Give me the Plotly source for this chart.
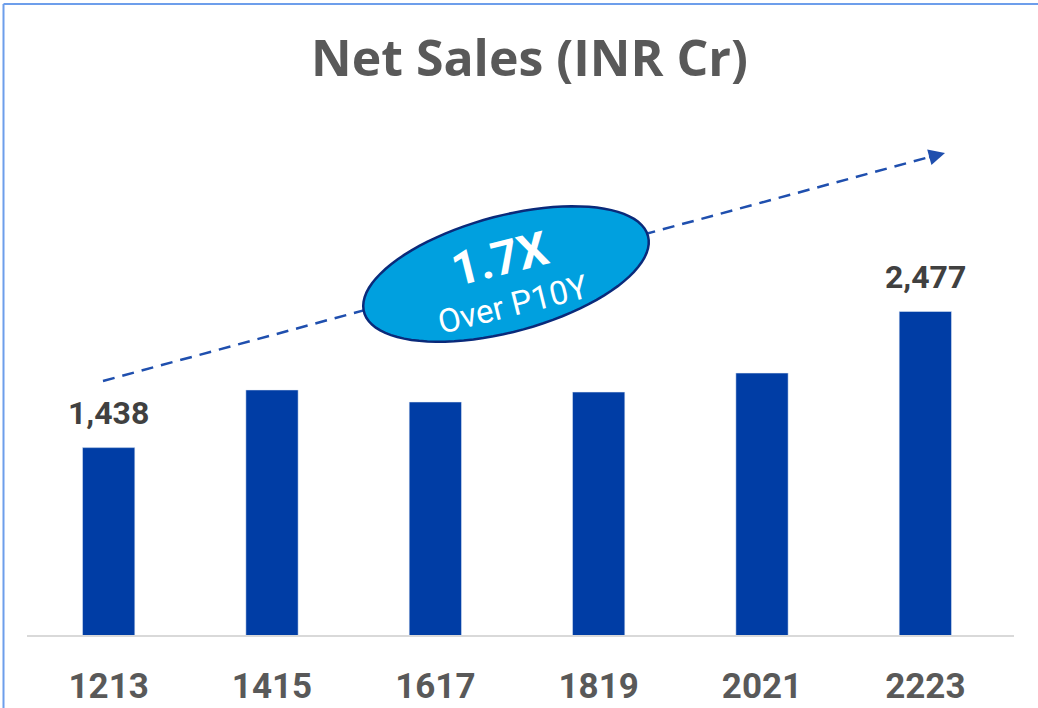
import plotly.graph_objects as go
import numpy as np

# ---- data ----
years = ["1213", "1415", "1617", "1819", "2021", "2223"]
net_sales = [1438, 1878, 1786, 1862, 2007, 2477]
label_text = ["1,438", "", "", "", "", "2,477"]
title_text = "Net Sales (INR Cr)"
badge_main = "1.7X"
badge_sub = "Over P10Y"

W, H = 1038, 708
ML, MR, MT, MB = 27, 31, 100, 72
PW, PH = W - ML - MR, H - MT - MB

def px(x):
    return (x - ML) / PW

def py(y):
    return (H - MB - y) / PH

BAR = "#003DA5"
fig = go.Figure()
fig.add_trace(go.Bar(x=years, y=net_sales, marker_color=BAR, width=0.32,
                     hoverinfo="skip"))

ymax = PH / 0.131
fig.update_layout(
    width=W, height=H, margin=dict(l=ML, r=MR, t=MT, b=MB, autoexpand=False),
    paper_bgcolor="white", plot_bgcolor="white", showlegend=False,
    xaxis=dict(type="category", showline=False, showgrid=False, zeroline=False, ticks="",
               automargin=False, range=[-0.5, 5.5],
               tickfont=dict(family="Roboto", size=35, color="#595959", weight="bold"),
               ticklabelstandoff=26),
    yaxis=dict(visible=False, range=[0, ymax], automargin=False),
    font=dict(family="Roboto"),
)

# title
fig.add_annotation(text=title_text, xref="paper", yref="paper", x=px(529), y=py(57),
                   showarrow=False, xanchor="center", yanchor="middle",
                   font=dict(family="Open Sans", size=50, color="#595959", weight="bold"))

# value labels
for i, (v, t) in enumerate(zip(net_sales, label_text)):
    if t:
        fig.add_annotation(x=i, y=v, xref="x", yref="y", text=t, showarrow=False,
                           xanchor="center", yanchor="bottom", yshift=14,
                           font=dict(family="Roboto", size=32, color="#404040", weight="bold"))

shapes = []
# border
shapes.append(dict(type="line", xref="paper", yref="paper", x0=px(3.5), x1=px(3.5),
                   y0=py(4), y1=py(708), line=dict(color="#6D9EEB", width=2)))
shapes.append(dict(type="line", xref="paper", yref="paper", x0=px(3.5), x1=px(1038),
                   y0=py(4), y1=py(4), line=dict(color="#6D9EEB", width=2)))
# axis line
shapes.append(dict(type="line", xref="paper", yref="paper", x0=px(27), x1=px(1014),
                   y0=py(636), y1=py(636), line=dict(color="#D9D9D9", width=2)))
# dashed trend line
sx, sy, ex, ey = 103, 381, 945, 153
shapes.append(dict(type="line", xref="paper", yref="paper", x0=px(sx), y0=py(sy),
                   x1=px(ex - 8), y1=py(ey + 2),
                   line=dict(color="#1F4FAE", width=2.5, dash="12px,8px")))
# ellipse badge
cx, cy, a, b, phi = 506, 274, 147, 58, np.deg2rad(15)
t = np.linspace(0, 2 * np.pi, 90)
ex_ = cx + a * np.cos(t) * np.cos(phi) + b * np.sin(t) * np.sin(phi)
ey_ = cy - a * np.cos(t) * np.sin(phi) + b * np.sin(t) * np.cos(phi)
path = "M " + " L ".join(f"{px(x):.5f},{py(y):.5f}" for x, y in zip(ex_, ey_)) + " Z"
shapes.append(dict(type="path", xref="paper", yref="paper", path=path,
                   fillcolor="#00A0DF", line=dict(color="#0A2A7A", width=2.5)))
fig.update_layout(shapes=shapes)

# arrow head
d = np.array([ex - sx, ey - sy], dtype=float)
d /= np.linalg.norm(d)
fig.add_annotation(xref="paper", yref="paper", x=px(ex), y=py(ey), text="",
                   showarrow=True, arrowhead=2, arrowsize=1.3, arrowwidth=2.5,
                   arrowcolor="#1F4FAE", axref="pixel", ayref="pixel",
                   ax=-d[0] * 18, ay=-d[1] * 18)

# badge text
fig.add_annotation(xref="paper", yref="paper", x=px(500), y=py(258), text=badge_main,
                   showarrow=False, textangle=-14, xanchor="center", yanchor="middle",
                   font=dict(family="Roboto", size=47, color="white", weight="bold"))
fig.add_annotation(xref="paper", yref="paper", x=px(512), y=py(304), text=badge_sub,
                   showarrow=False, textangle=-14, xanchor="center", yanchor="middle",
                   font=dict(family="Roboto", size=33, color="white"))

fig.write_html("out.html", config={"displayModeBar": False},
               post_script="document.body.style.margin='0';")
